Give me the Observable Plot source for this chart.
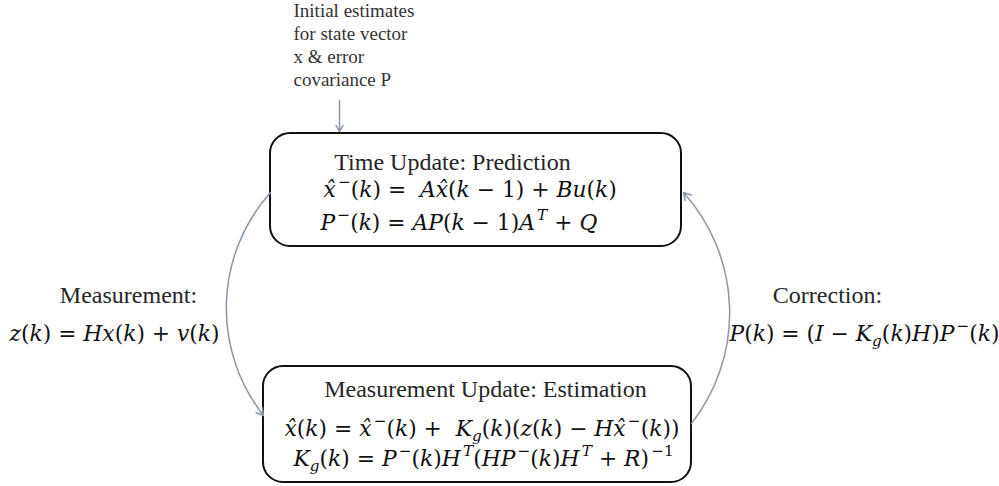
<!DOCTYPE html>
<html><head><meta charset="utf-8">
<script src="https://cdn.jsdelivr.net/npm/d3@7"></script>
<script src="https://cdn.jsdelivr.net/npm/@observablehq/plot@0.6"></script>
<style>body{margin:0;background:#fff} svg text{white-space:pre}</style>
</head><body><div id="chart"></div>
<script>
// ---- data ----
const boxNames = ["Time Update", "Measurement Update"];
const boxX1 = [270, 263], boxX2 = [681, 691], boxY1 = [133, 366], boxY2 = [246, 482];

const titles = ["Time Update: Prediction", "Measurement Update: Estimation", "Measurement:", "Correction:"];
const titleX = [452, 485, 128, 827];
const titleY = [169, 396, 302, 302];

const formulas = [
  "x\u0302^{\u2212}(k) =  Ax\u0302(k \u2212 1) + Bu(k)",
  "P^{\u2212}(k) = AP(k \u2212 1)A^{T} + Q",
  "x\u0302(k) = x\u0302^{\u2212}(k) +  K_{g}(k)(z(k) \u2212 Hx\u0302^{\u2212}(k))",
  "K_{g}(k) = P^{\u2212}(k)H^{T}(HP^{\u2212}(k)H^{T} + R)^{\u22121}",
  "z(k) = Hx(k) + v(k)",
  "P(k) = (I \u2212 K_{g}(k)H)P^{\u2212}(k)"
];
const formulaX = [323, 320, 284, 293, 9, 729];
const formulaY = [196, 229, 435, 465, 340, 340];

const noteText = ["Initial estimates\nfor state vector\nx & error\ncovariance P"];
const noteX = [293], noteY = [85];

const initArrow = {x1: [339], y1: [100], x2: [339], y2: [131]};
const loopArrows = {x1: [270, 691], y1: [192, 423], x2: [263, 683], y2: [415, 192]};

// ---- build ----
const idx = (n) => d3.range(n);
const boxes = idx(boxNames.length);
const tIdx = idx(titles.length);
const fIdx = idx(formulas.length);
const MATH_FS = 21.8;

const plot = Plot.plot({
  width: 999, height: 486, margin: 0,
  style: {background: "#fff"},
  x: {domain: [0, 999], range: [0, 999], axis: null},
  y: {domain: [0, 486], range: [0, 486], axis: null},
  marks: [
    Plot.rect(boxes, {x1: i => boxX1[i], x2: i => boxX2[i], y1: i => boxY1[i], y2: i => boxY2[i],
      rx: 20, fill: "#fff", stroke: "#111", strokeWidth: 2}),
    Plot.arrow([0], {x1: i => initArrow.x1[i], y1: i => initArrow.y1[i], x2: i => initArrow.x2[i], y2: i => initArrow.y2[i],
      stroke: "#8c97aa", strokeWidth: 1.5, headLength: 7}),
    Plot.arrow([0, 1], {x1: i => loopArrows.x1[i], y1: i => loopArrows.y1[i], x2: i => loopArrows.x2[i], y2: i => loopArrows.y2[i],
      bend: -40, stroke: "#8c97aa", strokeWidth: 1.5, headLength: 8}),
    Plot.text(noteText, {x: (d, i) => noteX[i], y: (d, i) => noteY[i], text: d => d,
      textAnchor: "start", lineAnchor: "bottom", lineHeight: 1.2,
      fontFamily: "Liberation Serif", fontSize: 19, fill: "#333"}),
    Plot.text(tIdx, {x: i => titleX[i], y: i => titleY[i], text: i => titles[i],
      textAnchor: "middle", lineAnchor: "bottom", fontFamily: "Liberation Serif", fontSize: 24, fill: "#262626"}),
    Plot.text(fIdx, {x: i => formulaX[i], y: i => formulaY[i], text: i => formulas[i],
      textAnchor: "start", lineAnchor: "bottom", fontFamily: "DejaVu Serif", fontSize: MATH_FS, fill: "#111"})
  ]
});

// ---- render mini math markup into tspans ----
const NS = "http://www.w3.org/2000/svg";
function renderMath(el, src, fs) {
  el.textContent = "";
  let shift = 0, level0 = 0;
  const add = (str, italic, level) => {
    const t = document.createElementNS(NS, "tspan");
    const target = level === 1 ? -0.42 * fs : level === -1 ? 0.24 * fs : 0;
    const dy = target - shift;
    if (dy) t.setAttribute("dy", dy);
    if (level === 1 && level0 !== 1) t.setAttribute("dx", 0.1 * fs);
    shift = target; level0 = level;
    if (italic) t.setAttribute("font-style", "italic");
    if (level) t.setAttribute("font-size", 0.7 * fs);
    t.textContent = str;
    el.appendChild(t);
  };
  const isIt = c => /[A-Za-z\u0302]/.test(c);
  const pushGroup = (s, level) => {
    let cur = "", curIt = null;
    for (const c of s) {
      const it = isIt(c);
      if (curIt !== null && it !== curIt) { add(cur, curIt, level); cur = ""; }
      cur += c; curIt = it;
    }
    if (cur) add(cur, curIt, level);
  };
  let i = 0, buf = "";
  while (i < src.length) {
    const c = src[i];
    if ((c === "^" || c === "_") && src[i + 1] === "{") {
      if (buf) { pushGroup(buf, 0); buf = ""; }
      const end = src.indexOf("}", i);
      pushGroup(src.slice(i + 2, end), c === "^" ? 1 : -1);
      i = end + 1;
    } else { buf += c; i++; }
  }
  if (buf) pushGroup(buf, 0);
}
const fset = new Set(formulas);
d3.select(plot).selectAll("text").each(function() {
  const s = this.textContent;
  if (fset.has(s)) renderMath(this, s, MATH_FS);
});

document.getElementById("chart").appendChild(plot);
</script></body></html>
